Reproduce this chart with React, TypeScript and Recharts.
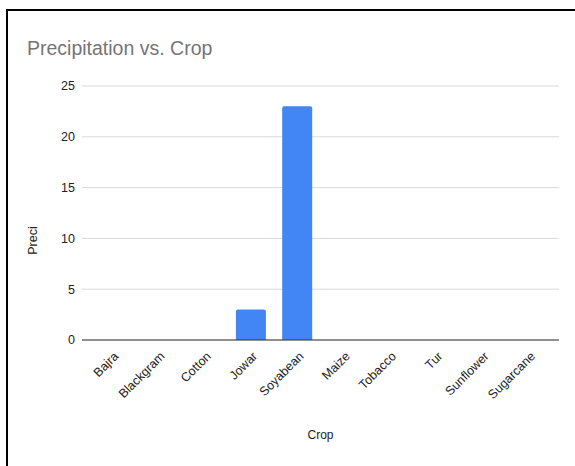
import React from "react";
import {
  BarChart,
  Bar,
  XAxis,
  YAxis,
  CartesianGrid,
  Label,
} from "recharts";

const crops = [
  "Bajra",
  "Blackgram",
  "Cotton",
  "Jowar",
  "Soyabean",
  "Maize",
  "Tobacco",
  "Tur",
  "Sunflower",
  "Sugarcane",
];
const preci = [0, 0, 0, 3, 23, 0, 0, 0, 0, 0];
const yTicks = [0, 5, 10, 15, 20, 25];

const data = crops.map((crop, i) => ({ crop, preci: preci[i] }));

const font = "Arial, 'Liberation Sans', sans-serif";

const CropTick = (props: any) => {
  const { x, y, payload } = props;
  const tx = x + 7;
  return (
    <text
      x={tx}
      y={y}
      transform={`rotate(-45, ${tx}, ${y})`}
      textAnchor="end"
      fontSize={12.5}
      fill="#222"
      fontFamily={font}
    >
      {payload.value}
    </text>
  );
};

const App: React.FC = () => {
  return (
    <div
      style={{
        position: "absolute",
        left: 0,
        top: 0,
        width: 575,
        height: 466,
        background: "#fff",
        fontFamily: font,
        overflow: "hidden",
      }}
    >
      <BarChart
        width={575}
        height={466}
        data={data}
        margin={{ top: 86, right: 16, left: 42, bottom: 26 }}
      >
        <CartesianGrid vertical={false} stroke="#d9d9d9" strokeWidth={1} />
        <XAxis
          dataKey="crop"
          height={100}
          padding={{ left: 7, right: 7 }}
          tickLine={false}
          tickSize={0}
          tickMargin={17}
          axisLine={{ stroke: "#333", strokeWidth: 1 }}
          interval={0}
          tick={<CropTick />}
        >
          <Label
            value="Crop"
            position="insideBottom"
            offset={1}
            fontSize={12}
            fill="#222"
          />
        </XAxis>
        <YAxis
          width={40}
          domain={[0, 25]}
          ticks={yTicks}
          tickLine={false}
          axisLine={false}
          tickSize={0}
          tickMargin={7}
          tick={{ fontSize: 12.5, fill: "#222" }}
        >
          <Label
            content={() => (
              <text
                x={36.5}
                y={240.5}
                transform="rotate(-90, 36.5, 240.5)"
                textAnchor="middle"
                fontSize={12.5}
                fill="#222"
                fontFamily={font}
              >
                Preci
              </text>
            )}
          />
        </YAxis>
        <Bar
          dataKey="preci"
          fill="#4285f4"
          barSize={30}
          radius={[2, 2, 0, 0]}
          isAnimationActive={false}
        />
      </BarChart>
      <svg
        width={575}
        height={466}
        style={{ position: "absolute", left: 0, top: 0, pointerEvents: "none" }}
      >
        <text x={27} y={55} fontSize={19.5} fill="#757575" fontFamily={font}>
          Precipitation vs. Crop
        </text>
        <line x1={7} y1={10} x2={575} y2={10} stroke="#000" strokeWidth={2} />
        <line x1={7} y1={9} x2={7} y2={466} stroke="#000" strokeWidth={2} />
      </svg>
    </div>
  );
};

export default App;
